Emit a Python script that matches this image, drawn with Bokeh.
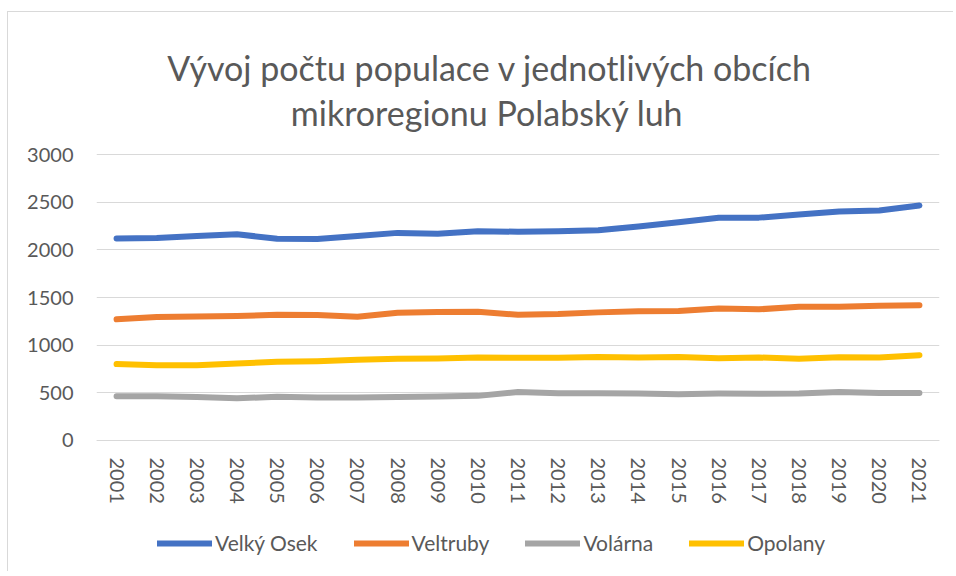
from bokeh.plotting import figure
from bokeh.models import (FactorRange, Range1d, FixedTicker, Legend, LegendItem, Label)
from bokeh.embed import file_html
from bokeh.resources import INLINE

years = [str(y) for y in range(2001, 2022)]
velky_osek = [2120, 2125, 2145, 2163, 2117, 2113, 2145, 2178, 2170, 2195, 2190,
              2195, 2205, 2245, 2290, 2336, 2338, 2370, 2402, 2412, 2465]
veltruby = [1272, 1295, 1300, 1306, 1318, 1316, 1297, 1340, 1347, 1350, 1318,
            1326, 1344, 1355, 1358, 1385, 1376, 1402, 1402, 1413, 1420]
volarna = [465, 463, 456, 442, 459, 452, 452, 456, 462, 468, 508,
           495, 495, 492, 486, 492, 489, 492, 508, 499, 499]
opolany = [802, 788, 788, 808, 825, 832, 846, 857, 860, 871, 867,
           867, 877, 871, 877, 863, 871, 857, 874, 871, 895]
y_ticks = [0, 500, 1000, 1500, 2000, 2500, 3000]
series_names = ["Velký Osek", "Veltruby", "Volárna", "Opolany"]
title_lines = ["Vývoj počtu populace v jednotlivých obcích", "mikroregionu Polabský luh"]

colors = ["#4472C4", "#ED7D31", "#A5A5A5", "#FFC000"]
FONT = "Lato"
TXT = "#595959"
GRID = "#d9d9d9"

# frame spans the whole canvas height; only ticks 0..3000 get gridlines/labels
p = figure(width=946, height=560, output_backend="svg", toolbar_location=None,
           x_range=FactorRange(factors=years, range_padding=0),
           y_range=Range1d(-1385, 4490),
           min_border_left=88, min_border_right=15, min_border_top=0, min_border_bottom=0)
p.styles = {"border-top": "1px solid #d9d9d9", "border-left": "1px solid #d9d9d9",
            "margin-top": "11px", "margin-left": "7px"}
p.title.visible = False
p.outline_line_color = None
p.background_fill_color = "white"
p.border_fill_color = "white"

p.xgrid.grid_line_color = None
p.ygrid.grid_line_color = GRID
p.ygrid.grid_line_width = 1
p.yaxis.ticker = FixedTicker(ticks=y_ticks)

p.yaxis.axis_line_color = None
p.yaxis.major_tick_line_color = None
p.yaxis.minor_tick_line_color = None
p.yaxis.major_label_standoff = 17
p.yaxis.major_label_text_font = FONT
p.yaxis.major_label_text_font_size = "20px"
p.yaxis.major_label_text_color = TXT

p.xaxis.fixed_location = 0
p.xaxis.axis_line_color = GRID
p.xaxis.major_tick_line_color = None
p.xaxis.minor_tick_line_color = None
p.xaxis.major_label_orientation = "vertical"
p.xaxis.major_label_standoff = 11
p.xaxis.major_label_text_font = FONT
p.xaxis.major_label_text_font_size = "20px"
p.xaxis.major_label_text_color = TXT

items = []
for name, vals, col in zip(series_names, [velky_osek, veltruby, volarna, opolany], colors):
    r = p.line(years, vals, line_color=col, line_width=6, line_cap="round", line_join="round")
    items.append(LegendItem(label=name, renderers=[r]))

legend = Legend(items=items, orientation="horizontal", location=(61, 17),
                glyph_width=55, glyph_height=20, label_standoff=3, spacing=36,
                padding=0, margin=0, border_line_color=None, background_fill_alpha=0,
                label_text_font=FONT, label_text_font_size="21px", label_text_color=TXT)
p.add_layout(legend, "center")

p.add_layout(Label(x=9.80, y=3916, text=title_lines[0], text_align="center",
                   text_baseline="alphabetic", text_font=FONT, text_font_size="34px",
                   text_color=TXT))
p.add_layout(Label(x=9.73, y=3444, text=title_lines[1], text_align="center",
                   text_baseline="alphabetic", text_font=FONT, text_font_size="34px",
                   text_color=TXT))

open("out.html", "w").write(file_html(p, INLINE))
